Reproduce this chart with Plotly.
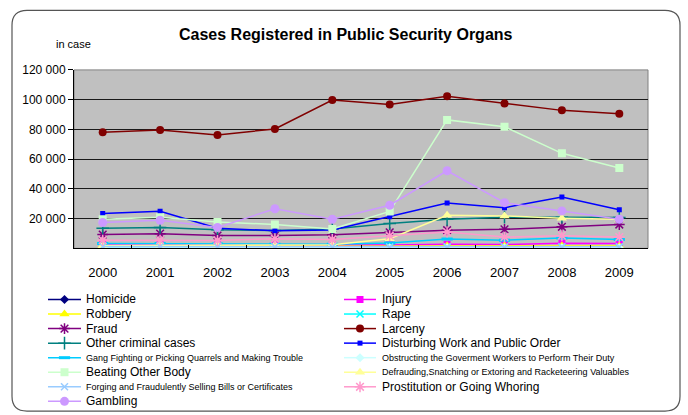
import plotly.graph_objects as go

years = ['2000', '2001', '2002', '2003', '2004', '2005', '2006', '2007', '2008', '2009']

homicide = [600, 600, 500, 500, 500, 500, 400, 400, 400, 400]
injury = [2500, 2500, 2400, 2300, 2200, 2300, 2800, 2600, 3500, 3200]
robbery = [1800, 1900, 1700, 1600, 1500, 1500, 1800, 1700, 1700, 1600]
rape = [800, 800, 700, 700, 700, 600, 700, 700, 700, 700]
fraud = [9300, 9900, 8600, 8600, 9200, 10800, 12200, 12800, 14500, 16000]
larceny = [78000, 79600, 76300, 80300, 99700, 96800, 102300, 97500, 92800, 90600]
other_criminal = [13500, 14000, 12500, 12000, 13000, 16800, 19500, 21000, 21000, 20800]
disturbing = [23500, 25000, 13600, 11800, 12400, 21300, 30500, 27300, 34500, 25900]
gang_fighting = [3200, 3200, 3000, 2800, 2800, 3600, 6300, 5500, 7000, 5900]
obstructing = [300, 300, 300, 300, 300, 400, 400, 400, 400, 400]
beating = [19500, 21000, 17800, 16000, 13100, 24800, 86400, 81800, 63900, 54000]
defrauding = [2000, 2100, 2000, 2200, 2500, 6500, 22200, 21800, 20300, 19500]
forging = [1200, 1200, 1100, 1000, 1000, 900, 1000, 1000, 1000, 1000]
prostitution = [5500, 5500, 5300, 6500, 6000, 8500, 11000, 7600, 8500, 7600]
gambling = [17400, 18900, 14100, 26600, 19600, 29000, 52200, 30700, 25200, 19600]

y_tickvals = [20000, 40000, 60000, 80000, 100000, 120000]
y_ticktext = ['20 000', '40 000', '60 000', '80 000', '100 000', '120 000']

# name, values, color, symbol, marker size, small legend text
series = [
    ("Homicide", homicide, "#000080", "diamond", 7, False),
    ("Injury", injury, "#FF00FF", "square", 7, False),
    ("Robbery", robbery, "#FFFF00", "triangle-up", 9, False),
    ("Rape", rape, "#00FFFF", "x-thin-open", 7, False),
    ("Fraud", fraud, "#800080", "asterisk-open", 9, False),
    ("Larceny", larceny, "#800000", "circle", 8, False),
    ("Other criminal cases", other_criminal, "#008080", "cross-thin-open", 9, False),
    ("Disturbing Work and Public Order", disturbing, "#0000FF", "square", 5, False),
    ("Gang Fighting or Picking Quarrels and Making Trouble", gang_fighting, "#00CCFF", "line-ew-open", 8, True),
    ("Obstructing the Goverment Workers to Perform Their Duty", obstructing, "#CCFFFF", "diamond", 7, True),
    ("Beating Other Body", beating, "#CCFFCC", "square", 8, False),
    ("Defrauding,Snatching or Extoring and Racketeering Valuables", defrauding, "#FFFF99", "triangle-up", 9, True),
    ("Forging and Fraudulently Selling Bills or Certificates", forging, "#99CCFF", "x-thin-open", 7, True),
    ("Prostitution or Going Whoring", prostitution, "#FF99CC", "asterisk-open", 9, False),
    ("Gambling", gambling, "#CC99FF", "circle", 9, False),
]

FONT = "Arial, Liberation Sans, sans-serif"
W, H = 688, 415

fig = go.Figure()

for name, vals, col, sym, sz, small in series:
    lw = 1.5 if sym.endswith("open") else 0
    if sym == "line-ew-open":
        lw = 3
    fig.add_trace(go.Scatter(
        x=years, y=vals, name=name, mode="lines+markers",
        line=dict(color=col, width=1.5),
        marker=dict(symbol=sym, size=sz, color=col, line=dict(color=col, width=lw)),
        xaxis="x", yaxis="y", showlegend=False, hoverinfo="skip"))

# custom legend on a pixel-unit helper axis
row0, rowh = 297.5, 14.8
cols = [(48, 81, 84), (344, 376, 380)]
annotations = []
for i, (name, vals, col, sym, sz, small) in enumerate(series):
    r = i // 2
    c = i % 2
    x0, x1, xt = cols[c]
    yy = row0 + r * rowh
    fig.add_trace(go.Scatter(
        x=[x0, x1], y=[yy, yy], mode="lines", line=dict(color=col, width=1.5),
        xaxis="x2", yaxis="y2", showlegend=False, hoverinfo="skip"))
    lw = 1.5 if sym.endswith("open") else 0
    if sym == "line-ew-open":
        lw = 3
    fig.add_trace(go.Scatter(
        x=[(x0 + x1) / 2], y=[yy], mode="markers",
        marker=dict(symbol=sym, size=sz, color=col, line=dict(color=col, width=lw)),
        xaxis="x2", yaxis="y2", showlegend=False, hoverinfo="skip"))
    annotations.append(dict(
        x=xt, y=yy, xref="x2", yref="y2", text=name, showarrow=False,
        xanchor="left", yanchor="middle",
        font=dict(family=FONT, size=9 if small else 12, color="black")))

annotations.append(dict(
    x=346 / W, y=1 - 28 / H, xref="paper", yref="paper",
    text="<b>Cases Registered in Public Security Organs</b>", showarrow=False,
    xanchor="center", yanchor="middle", font=dict(family=FONT, size=16, color="black")))
annotations.append(dict(
    x=54 / W, y=1 - 38 / H, xref="paper", yref="paper", text="in case", showarrow=False,
    xanchor="left", yanchor="middle", font=dict(family=FONT, size=11, color="black")))

shapes = [
    dict(type="rect", xref="x domain", yref="y domain", x0=0, x1=1, y0=0, y1=1,
         fillcolor="#C0C0C0", line=dict(color="#808080", width=1), layer="below"),
    dict(type="path", xref="x2", yref="y2",
         path="M 27,3.5 L 665,3.5 Q 680,3.5 680,18.5 L 680,396 Q 680,411 665,411 "
              "L 27,411 Q 12,411 12,396 L 12,18.5 Q 12,3.5 27,3.5 Z",
         line=dict(color="#555555", width=1.2), fillcolor="rgba(0,0,0,0)", layer="above"),
]

fig.update_layout(
    width=W, height=H, margin=dict(l=0, r=0, t=0, b=0),
    paper_bgcolor="white", plot_bgcolor="rgba(0,0,0,0)",
    font=dict(family=FONT, color="black"),
    xaxis=dict(domain=[74 / W, 648 / W], type="category", categoryorder="array",
               categoryarray=years, range=[-0.5, 9.5], showline=True, linecolor="black",
               linewidth=1, ticks="inside", tickson="boundaries", ticklen=3,
               tickcolor="black", showgrid=False, zeroline=False,
               tickfont=dict(family=FONT, size=13, color="black"),
               ticklabelstandoff=12, fixedrange=True, anchor="y"),
    yaxis=dict(domain=[1 - 245.5 / H, 1 - 64 / H], range=[0, 120000],
               tickvals=y_tickvals, ticktext=y_ticktext, showline=True,
               linecolor="black", linewidth=1, ticks="outside", ticklen=5,
               tickcolor="black", showgrid=True, gridcolor="#1a1a1a", gridwidth=1,
               zeroline=False, tickfont=dict(family=FONT, size=12, color="black"),
               fixedrange=True, anchor="x"),
    xaxis2=dict(domain=[0, 1], range=[0, W], visible=False, fixedrange=True, anchor="y2"),
    yaxis2=dict(domain=[0, 1], range=[H, 0], visible=False, fixedrange=True, anchor="x2"),
    annotations=annotations, shapes=shapes, showlegend=False,
)

fig.write_html(
    "out.html",
    config={"displayModeBar": False},
    post_script="document.body.style.margin='0';document.body.style.overflow='hidden';",
)
